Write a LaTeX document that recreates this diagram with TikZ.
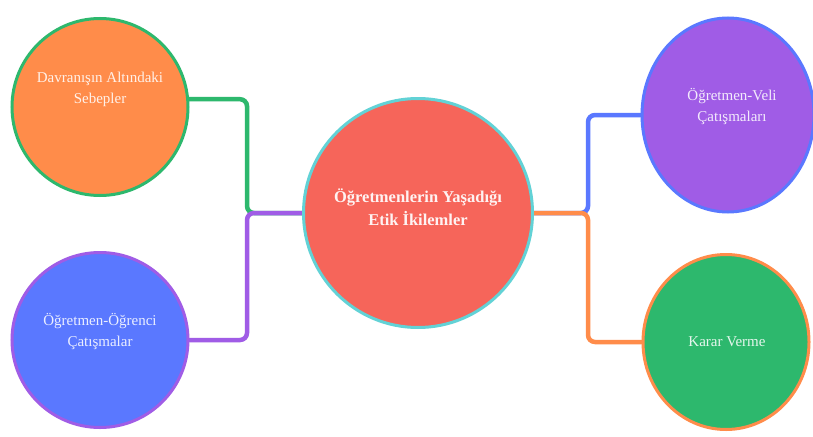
\documentclass[tikz,border=0pt]{standalone}
\usepackage{fontspec}
\setmainfont{Liberation Serif}
\usetikzlibrary{shapes.geometric}
\definecolor{cOrange}{HTML}{FF8C4A}
\definecolor{cGreen}{HTML}{2DB86D}
\definecolor{cBlue}{HTML}{5A78FF}
\definecolor{cPurple}{HTML}{A05CE6}
\definecolor{cRed}{HTML}{F6655A}
\definecolor{cCyan}{HTML}{62D2D6}
\tikzset{
  bubble/.style={ellipse, inner sep=0pt, line width=3pt},
  lbl/.style={align=center, text=white, text opacity=0.88, font=\fontsize{15}{21}\selectfont},
  clbl/.style={align=center, text=white, text opacity=0.92, font=\fontsize{16.5}{23}\selectfont\bfseries},
  conn/.style={line width=4.5pt, rounded corners=7pt, line cap=round}
}
\begin{document}
\begin{tikzpicture}[x=1pt,y=-1pt]
\useasboundingbox (0,0) rectangle (813,436);
\fill[white] (0,0) rectangle (813,436);
% junction coordinates
\coordinate (jl) at (247,213);
\coordinate (jr) at (588,213);
% node placeholders
\node[bubble, minimum width=229pt, minimum height=229pt] (ctr) at (418,213) {};
\node[bubble, minimum width=176pt, minimum height=177pt] (c1) at (100,107) {};
\node[bubble, minimum width=176pt, minimum height=175pt] (c2) at (100,340) {};
\node[bubble, minimum width=172pt, minimum height=194pt] (c3) at (728,115) {};
\node[bubble, minimum width=166pt, minimum height=175pt] (c4) at (726,342) {};
% connectors (drawn first, under circles)
\draw[conn, cGreen] (c1.5) -| (jl) -- (ctr.west);
\draw[conn, cPurple] (ctr.west) -- (jl) |- (c2.east);
\draw[conn, cBlue] (ctr.east) -- (jr) |- (c3.west);
\draw[conn, cOrange] (ctr.east) -- (jr) |- (c4.west);
% circles
\draw[line width=3pt, cCyan, fill=cRed] (ctr.center) ellipse (114.5pt and 114.5pt);
\draw[line width=3pt, cGreen, fill=cOrange] (c1.center) ellipse (88pt and 88.5pt);
\draw[line width=3pt, cPurple, fill=cBlue] (c2.center) ellipse (88pt and 87.5pt);
\draw[line width=3pt, cBlue, fill=cPurple] (c3.center) ellipse (86pt and 97pt);
\draw[line width=3pt, cOrange, fill=cGreen] (c4.center) ellipse (83pt and 87.5pt);
% texts
\node[clbl] (t0) at (418,207) {Öğretmenlerin Yaşadığı\\Etik İkilemler};
\node[lbl] (t1) at (100,89) {Davranışın Altındaki\\Sebepler};
\node[lbl] (t2) at (100,332) {Öğretmen-Öğrenci\\Çatışmalar};
\node[lbl] (t3) at (732,107) {Öğretmen-Veli\\Çatışmaları};
\node[lbl] (t4) at (727,342) {Karar Verme};
\end{tikzpicture}
\end{document}
